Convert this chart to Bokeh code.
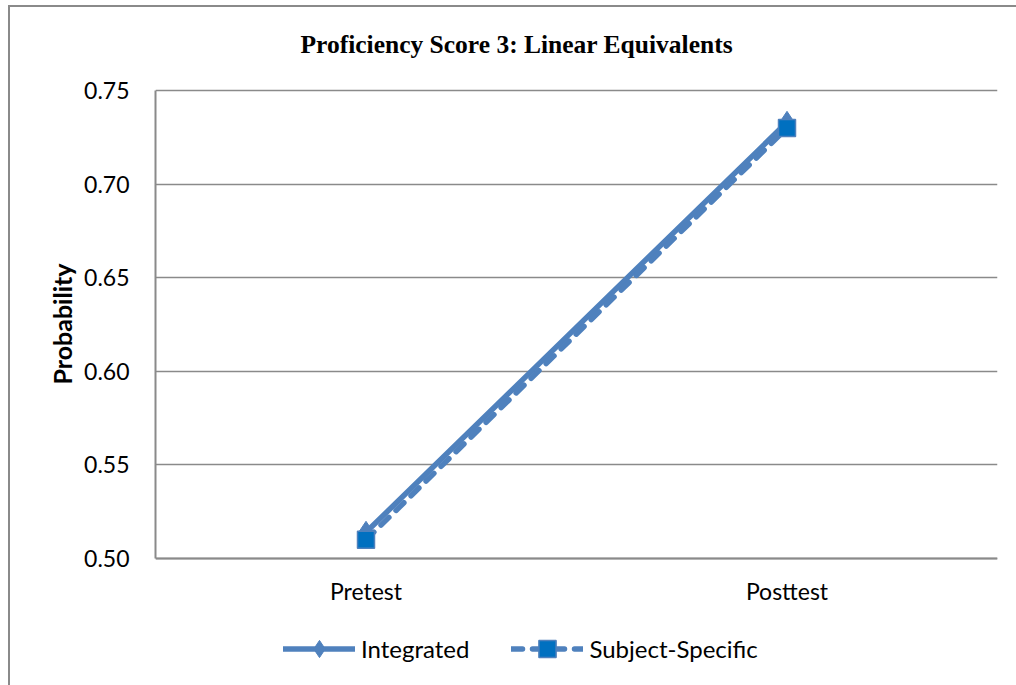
from bokeh.plotting import figure
from bokeh.models import (Legend, LegendItem, FactorRange, Range1d, FixedTicker,
                          NumeralTickFormatter, Title, Label)
from bokeh.embed import file_html
from bokeh.resources import INLINE

title_text = "Proficiency Score 3: Linear Equivalents"
y_title = "Probability"
categories = ["Pretest", "Posttest"]
integrated = [0.514, 0.733]
subject_specific = [0.510, 0.730]
y_ticks = [0.50, 0.55, 0.60, 0.65, 0.70, 0.75]

LINE = "#4F81BD"
SQUARE = "#0070C0"
GRID = "#8A8A8A"

# 0.50..0.75 spans 468 px. The frame is extended above 0.75 and below 0.50
# so that the title and legend drawn in it are not clipped.
FRAME_H = 678
PX = (y_ticks[-1] - y_ticks[0]) / 468.0
Y_TOP = y_ticks[-1] + 83 * PX
Y_BOTTOM = Y_TOP - FRAME_H * PX

p = figure(frame_width=842, frame_height=FRAME_H, title=None,
           x_range=FactorRange(*categories, range_padding=0),
           y_range=Range1d(Y_BOTTOM, Y_TOP),
           output_backend="svg", toolbar_location=None,
           min_border_left=145, min_border_right=19,
           min_border_top=0, min_border_bottom=0)
p.styles = {"margin-left": "8px", "margin-top": "5px",
            "border-left": "2px solid #8A8A8A", "border-top": "2px solid #8A8A8A"}
p.outline_line_color = None

title = Label(text=title_text, x=145, y=641, x_units="screen", y_units="screen",
              text_align="left", text_baseline="middle",
              text_font="Liberation Serif", text_font_size="25.5px",
              text_font_style="bold", text_color="black")
p.add_layout(title)

# y axis
p.yaxis.ticker = FixedTicker(ticks=y_ticks)
p.yaxis.bounds = (y_ticks[0], y_ticks[-1])
p.yaxis.formatter = NumeralTickFormatter(format="0.00")
p.yaxis.major_label_text_font = "Lato"
p.yaxis.major_label_text_font_size = "23px"
p.yaxis.major_label_text_color = "black"
p.yaxis.major_tick_line_color = None
p.yaxis.minor_tick_line_color = None
p.yaxis.major_tick_out = 0
p.yaxis.major_tick_in = 0
p.yaxis.major_label_standoff = 26
p.yaxis.axis_line_color = GRID
p.yaxis.axis_line_width = 2

# y axis title, centred on the 0.50..0.75 part of the frame
ytitle = Title(text=y_title, align="right", offset=256,
               vertical_align="bottom", standoff=10,
               text_font="Lato", text_font_size="25px",
               text_font_style="bold", text_color="black")
p.add_layout(ytitle, "left")

# x axis, drawn at 0.50
p.xaxis.fixed_location = y_ticks[0]
p.xaxis.major_label_text_font = "Lato"
p.xaxis.major_label_text_font_size = "23px"
p.xaxis.major_label_text_color = "black"
p.xaxis.major_tick_line_color = None
p.xaxis.minor_tick_line_color = None
p.xaxis.major_tick_out = 0
p.xaxis.major_tick_in = 0
p.xaxis.major_label_standoff = 18
p.xaxis.axis_line_color = GRID
p.xaxis.axis_line_width = 2

p.xgrid.grid_line_color = None
p.ygrid.ticker = FixedTicker(ticks=y_ticks)
p.ygrid.grid_line_color = GRID
p.ygrid.grid_line_width = 1.5

l1 = p.line(categories, integrated, line_color=LINE, line_width=5.5, line_cap="round")
m1 = p.scatter(categories, integrated, marker="diamond", size=22,
               fill_color=LINE, line_color=LINE, line_width=1)
l2 = p.line(categories, subject_specific, line_color=LINE, line_width=5.5,
            line_dash="11 10", line_cap="round")
m2 = p.scatter(categories, subject_specific, marker="square", size=17,
               fill_color=SQUARE, line_color=LINE, line_width=1.5)

legend = Legend(items=[LegendItem(label="Integrated", renderers=[l1, m1]),
                       LegendItem(label="Subject-Specific", renderers=[l2, m2])],
                orientation="horizontal", location=(128, 15.5),
                glyph_width=72, glyph_height=43, label_standoff=6, spacing=42,
                padding=0, margin=0,
                label_text_font="Lato", label_text_font_size="24px",
                label_text_color="black",
                background_fill_alpha=0, border_line_color=None)
p.add_layout(legend, "center")

open("out.html", "w").write(file_html(p, INLINE))
